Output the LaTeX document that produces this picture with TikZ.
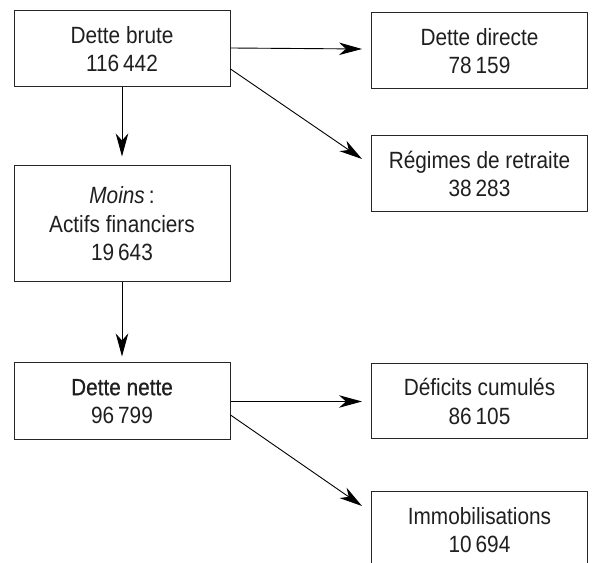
\documentclass[tikz,border=0pt]{standalone}
\usepackage{fontspec}
\setmainfont[FakeStretch=0.885]{Liberation Sans}
\usetikzlibrary{arrows.meta}
\tikzset{
  box/.style={draw=black!85, line width=1pt, minimum width=216pt, inner sep=0pt,
    align=center, font=\fontsize{23.5}{28.5}\selectfont, text=black!88},
  conn/.style={draw=black, line width=0.9pt, -{Stealth[length=23pt,width=12.5pt,inset=7pt]}}
}
\begin{document}
\begin{tikzpicture}[x=1pt,y=1pt]
\useasboundingbox (0,0) rectangle (594,562);
\clip (0,0) rectangle (594,562);
% image coords: Y = 562 - y
\node[box, minimum height=76pt] (brute) at (122,513) {Dette brute\\116\,442};
\node[box, minimum height=116pt] (moins) at (122,338) {\textit{Moins}\,:\\Actifs financiers\\19\,643};
\node[box, minimum height=77pt] (nette) at (122,160.5) {\addfontfeatures{FakeBold=0.6}Dette nette\\96\,799};
\node[box, minimum height=76pt] (directe) at (479.5,511) {Dette directe\\78\,159};
\node[box, minimum height=76pt] (regimes) at (479.5,388) {Régimes de retraite\\38\,283};
\node[box, minimum height=75pt] (deficits) at (479.5,160.5) {Déficits cumulés\\86\,105};
\node[box, minimum height=76pt] (immob) at (479.5,32) {Immobilisations\\10\,694};
\draw[conn] ([yshift=1pt]brute.east) -- ([xshift=-9pt]brute.east -| directe.west);
\draw[conn] ([yshift=-20pt]brute.east) -- ([xshift=-9pt,yshift=15pt]regimes.west);
\draw[conn] (brute.south) -- ([yshift=9pt]moins.north);
\draw[conn] (moins.south) -- ([yshift=6pt]nette.north);
\draw[conn] (nette.east) -- ([xshift=-9pt]nette.east -| deficits.west);
\draw[conn] ([yshift=-13.5pt]nette.east) -- ([xshift=-9pt,yshift=24pt]immob.west);
\end{tikzpicture}
\end{document}
